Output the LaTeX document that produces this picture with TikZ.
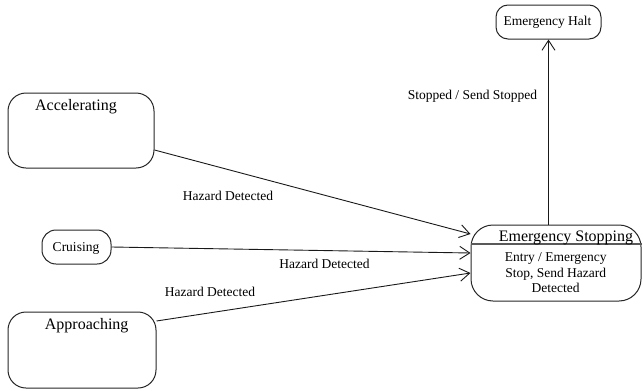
\documentclass[tikz,border=0pt]{standalone}
\usepackage{fontspec}
\setmainfont{Liberation Serif}
\usetikzlibrary{arrows.meta}
\begin{document}
\begin{tikzpicture}[x=1pt,y=-1pt,
  state/.style={draw=black!85,line width=1pt,rounded corners=#1,inner sep=0pt},
  state/.default=18pt,
  bigtxt/.style={font=\fontsize{16}{18}\selectfont,anchor=base,inner sep=0pt},
  smalltxt/.style={font=\fontsize{13.5}{15.5}\selectfont,anchor=base,inner sep=0pt},
  trans/.style={draw=black!90,line width=0.9pt,-{Straight Barb[length=10pt,width=13pt,line width=0.9pt]}}]
  \useasboundingbox (0,0) rectangle (643,391);

  % states
  \node[state, minimum width=146pt, minimum height=75pt] (acc) at (81,130.5) {};
  \node[state=14pt, minimum width=69pt, minimum height=34pt] (cru) at (76.5,247) {};
  \node[state, minimum width=148pt, minimum height=76pt] (app) at (82,350) {};
  \node[state=12pt, minimum width=105pt, minimum height=34pt] (halt) at (548.5,22) {};
  \node[state=22pt, minimum width=170pt, minimum height=76pt] (stop) at (556,263) {};
  \draw[black!65,line width=1.6pt] (stop.west |- 0,244) -- (stop.east |- 0,244);

  % state names
  \node[bigtxt] (accT) at (76,110) {Accelerating};
  \node[smalltxt] (cruT) at (76,251.5) {Cruising};
  \node[bigtxt] (appT) at (86.7,329) {Approaching};
  \node[smalltxt] (haltT) at (547.5,25) {Emergency Halt};
  \node[bigtxt] (stopT) at (566,241) {Emergency Stopping};
  \node[smalltxt,anchor=north,align=center] (stopB) at (555.7,252.5)
    {Entry / Emergency\\Stop, Send Hazard\\Detected};

  % transitions
  \draw[trans] ([yshift=-19.5pt]acc.east) -- ([yshift=29pt]stop.west);
  \draw[trans] (cru.east) -- ([yshift=10pt]stop.west);
  \draw[trans] ([yshift=29pt]app.east) -- ([yshift=-10pt]stop.west);
  \draw[trans] (stop.north -| halt.south) -- (halt.south);

  % transition labels
  \node[smalltxt] (l1) at (228,200) {Hazard Detected};
  \node[smalltxt] (l2) at (324.5,268) {Hazard Detected};
  \node[smalltxt] (l3) at (210,296.5) {Hazard Detected};
  \node[smalltxt] (l4) at (472.5,99) {Stopped / Send Stopped};
\end{tikzpicture}
\end{document}
